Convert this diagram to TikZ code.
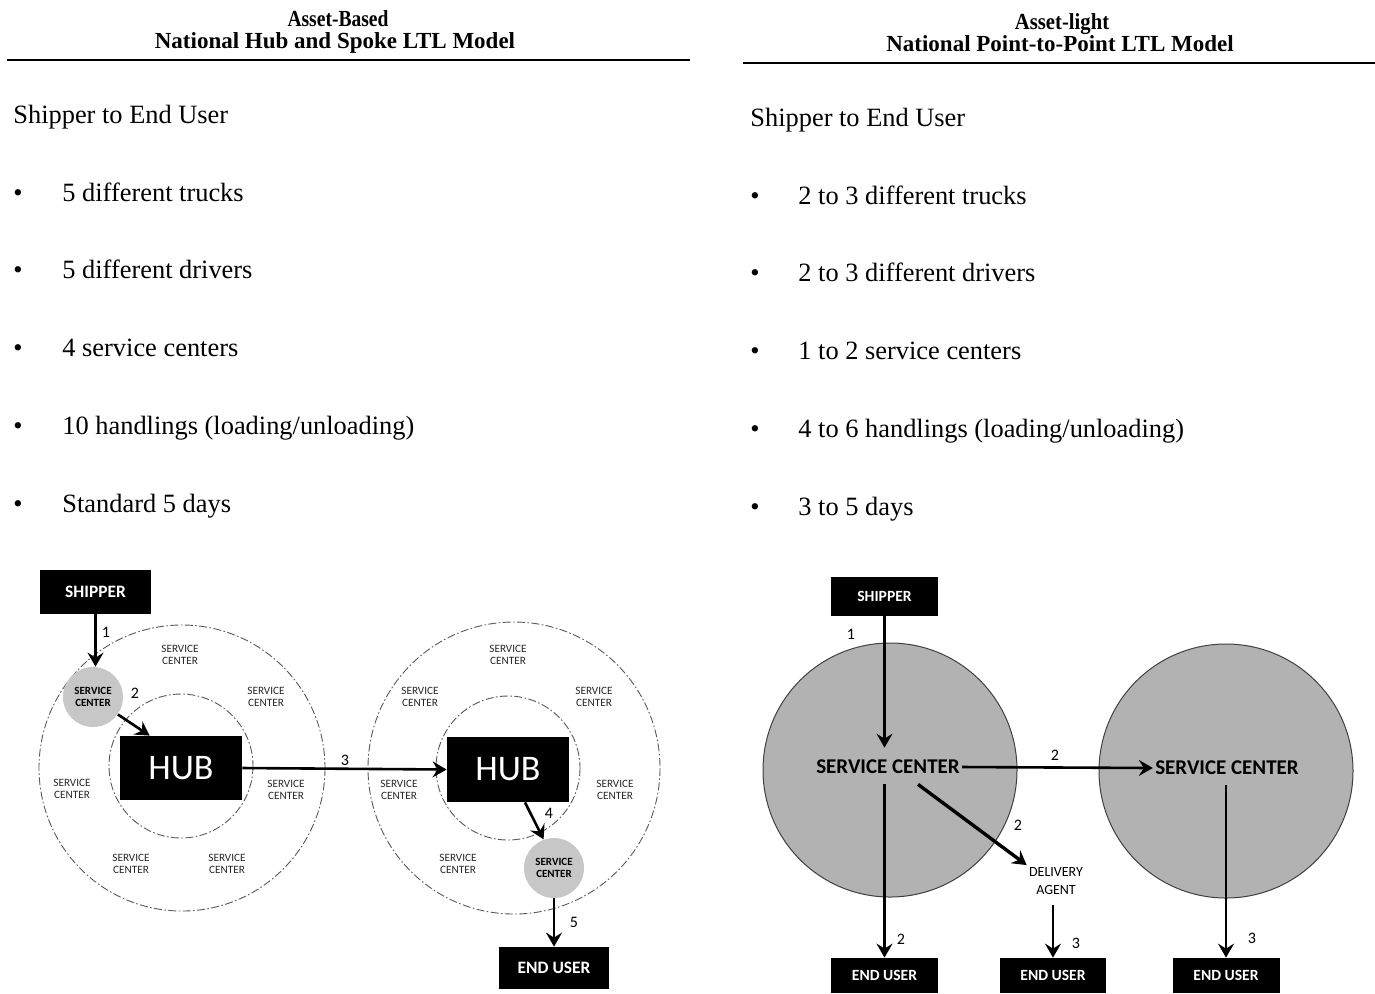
\documentclass[tikz,border=0pt]{standalone}
\usepackage{fontspec}
\usepackage{graphicx}
\setmainfont{Liberation Serif}
\newfontfamily\cf{Carlito}
\usetikzlibrary{arrows.meta,calc}
\begin{document}
\begin{tikzpicture}[x=0.5pt,y=-0.5pt,
  hdr/.style={font=\fontsize{11.5}{13}\selectfont\bfseries, anchor=base, inner sep=0pt},
  body/.style={font=\fontsize{13.2}{15}\selectfont, anchor=base west, inner sep=0pt},
  blk/.style={fill=black, text=white, inner sep=0pt, font=\cf\bfseries\fontsize{8.7}{10}\selectfont},
  blks/.style={blk, font=\cf\bfseries\fontsize{7.8}{9}\selectfont},
  ring/.style={font=\cf\fontsize{5.6}{6.2}\selectfont, align=center, inner sep=0pt, text=black!85},
  num/.style={font=\cf\fontsize{8}{9}\selectfont, inner sep=0pt},
  arr/.style={-{Stealth[length=7pt,width=8pt,inset=2.5pt]}, line width=1.3pt},
  dcirc/.style={draw=black!65, line width=0.45pt, dash pattern=on 4pt off 1.2pt on 0.8pt off 1.2pt},
  smallsc/.style={circle, fill=black!22, minimum size=30pt, inner sep=0pt, align=center, font=\cf\bfseries\fontsize{5.5}{6}\selectfont},
  bigsc/.style={circle, fill=black!30, draw=black!75, line width=0.5pt, minimum size=127pt, inner sep=0pt},
  sctext/.style={font=\cf\bfseries\fontsize{10.5}{12}\selectfont, inner sep=1pt}
]
\useasboundingbox (0,0) rectangle (1375,993);

% ---------- headers ----------
\node[hdr] (hL1) at (338,26) {\scalebox{0.85}[1]{Asset-Based}};
\node[hdr] (hL2) at (335,48) {National Hub and Spoke LTL Model};
\draw[line width=1pt] (7,60) -- (690,60);
\node[hdr] (hR1) at (1062,29) {\scalebox{0.9}[1]{Asset-light}};
\node[hdr] (hR2) at (1060,51) {National Point-to-Point LTL Model};
\draw[line width=1pt] (743,63) -- (1375,63);

% ---------- left text ----------
\node[body] (tL0) at (13,123) {Shipper to End User};
\foreach \yy/\tt [count=\i] in {201/{5 different trucks}, 278/{5 different drivers}, 356/{4 service centers}, 434/{10 handlings (loading/unloading)}, 512/{Standard 5 days}}{
  \node[body] (bL\i) at (13,\yy) {•};
  \node[body] (tL\i) at (62,\yy) {\tt};
}
% ---------- right text ----------
\node[body] (tR0) at (750,126) {Shipper to End User};
\foreach \yy/\tt [count=\i] in {204/{2 to 3 different trucks}, 281/{2 to 3 different drivers}, 359/{1 to 2 service centers}, 437/{4 to 6 handlings (loading/unloading)}, 515/{3 to 5 days}}{
  \node[body] (bR\i) at (750,\yy) {•};
  \node[body] (tR\i) at (798,\yy) {\tt};
}

% ---------- left diagram ----------
\draw[dcirc] (182,768) circle [radius=143];
\draw[dcirc] (181,766) circle [radius=72];
\draw[dcirc] (514,768) circle [radius=146];
\draw[dcirc] (508,768) circle [radius=72];

\foreach \px/\py [count=\i] in {180/655, 266/697, 72/789, 286/790, 131/864, 227/864}{
  \node[ring] (rL\i) at (\px,\py) {SERVICE\\CENTER};
}
\foreach \px/\py [count=\i] in {508/655, 420/697, 594/697, 399/790, 615/790, 458/864}{
  \node[ring] (rR\i) at (\px,\py) {SERVICE\\CENTER};
}

\node[blk, minimum width=55.5pt, minimum height=22pt] (shipL) at (95.5,592) {SHIPPER};
\node[smallsc] (scL) at (93,697) {SERVICE\\CENTER};
\node[fill=black, text=white, inner sep=0pt, minimum width=61pt, minimum height=32pt, font=\cf\fontsize{18}{20}\selectfont] (hubL) at (181,768) {HUB};
\node[fill=black, text=white, inner sep=0pt, minimum width=61pt, minimum height=32.5pt, font=\cf\fontsize{18}{20}\selectfont] (hubR) at (508,769.5) {HUB};
\node[smallsc] (scR) at (554,868) {SERVICE\\CENTER};
\node[blk, minimum width=55pt, minimum height=21pt] (euL) at (554,968) {END USER};

\draw[arr] (shipL.south) -- (shipL.south |- scL.north);
\draw[arr] (scL.-35) -- ($(hubL.north west)+(30,0)$);
\draw[arr] (hubL.east) -- (hubR.west);
\draw[arr] ($(hubR.south)+(17,0)$) -- (scR.110);
\draw[arr] (scR.south) -- (euL.north);

\node[num] (nL1) at (106,632) {1};
\node[num] (nL2) at (135,693) {2};
\node[num] (nL3) at (345,760) {3};
\node[num] (nL4) at (549,813) {4};
\node[num] (nL5) at (574,922) {5};

% ---------- right diagram ----------
\node[bigsc] (c1) at (890,770) {};
\node[bigsc] (c2) at (1226,771) {};
\node[blks, minimum width=53.5pt, minimum height=19.5pt] (shipR) at (884.5,596.5) {SHIPPER};
\node[sctext] (sc1) at (888,767) {SERVICE CENTER};
\node[sctext] (sc2) at (1227,768) {SERVICE CENTER};
\node[font=\cf\fontsize{7}{9}\selectfont, align=center, inner sep=1pt] (da) at (1056,881) {DELIVERY\\AGENT};
\node[blks, minimum width=53.5pt, minimum height=17.5pt] (eu1) at (884.5,975.5) {END USER};
\node[blks, minimum width=53pt, minimum height=17.5pt] (eu2) at (1053,975.5) {END USER};
\node[blks, minimum width=53.5pt, minimum height=17.5pt] (eu3) at (1226,975.5) {END USER};

\draw[arr, line width=1.1pt] (shipR.south) -- ($(shipR.south |- sc1.north)+(0,-10)$);
\draw[arr, line width=1.3pt] (sc1.east) -- (sc2.west);
\draw[arr, line width=1.7pt] ($(sc1.south)+(30,8)$) -- (da.north west);
\draw[arr, line width=1.1pt] ($(eu1.north |- sc1.south)+(0,8)$) -- (eu1.north);
\draw[arr, line width=1.1pt] ($(eu2.north |- da.south)+(0,8)$) -- (eu2.north);
\draw[arr, line width=1.1pt] ($(eu3.north |- sc2.south)+(0,8)$) -- (eu3.north);

\node[num] (nR1) at (851,634) {1};
\node[num] (nR2) at (1055,755) {2};
\node[num] (nR3) at (1018,825) {2};
\node[num] (nR4) at (901,939) {2};
\node[num] (nR5) at (1076,943) {3};
\node[num] (nR6) at (1252,938) {3};
\end{tikzpicture}
\end{document}
